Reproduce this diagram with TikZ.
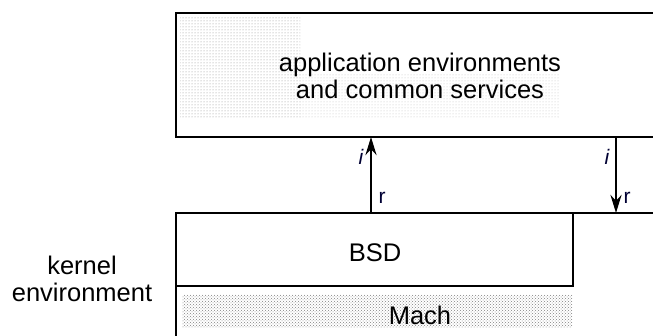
\documentclass[tikz,border=0pt]{standalone}
\usepackage{fontspec}
\setmainfont{Liberation Sans}
\usetikzlibrary{arrows.meta,patterns}
\begin{document}
\begin{tikzpicture}[x=1pt,y=-1pt,
  frame/.style={draw=black,line width=2.6pt,inner sep=0pt,outer sep=0pt},
  lbl/.style={font=\fontsize{25.5}{27}\selectfont,align=center,inner sep=0pt},
  small/.style={font=\fontsize{21}{22}\selectfont,inner sep=0pt,text=black!80!blue},
  link/.style={line width=2.6pt}]
\useasboundingbox (0,0) rectangle (653,336);
\clip (0,0) rectangle (653,336);
% textures
\fill[pattern=dots,pattern color=black!45] (180,18) rectangle (300,118);
\fill[pattern=dots,pattern color=black!25] (300,75) rectangle (560,118);
\fill[pattern=crosshatch dots,pattern color=black!50] (182,295) rectangle (572,328);
% boxes
\node[frame,anchor=north west,minimum width=520pt,minimum height=124pt] (app) at (176,13) {};
\node[frame,anchor=north west,minimum width=520pt,minimum height=200pt] (kern) at (176,213) {};
\node[frame,anchor=north west,minimum width=397pt,minimum height=73pt] (bsd) at (176,213) {};
% texts
\node[lbl] (apptxt) at (420,76) {application environments\\and common services};
\node[lbl] (bsdtxt) at (375,253) {BSD};
\node[lbl] (mach) at (420,315) {Mach};
\node[lbl] (kenv) at (82,279) {kernel\\environment};
% arrows
\coordinate (l) at (371,0);
\coordinate (r) at (616,0);
\draw[link,-{Stealth[length=18pt,width=11pt]}] (bsd.north -| l) -- (app.south -| l);
\draw[link,-{Stealth[length=18pt,width=11pt]}] (app.south -| r) -- (kern.north -| r);
\node[small] (il) at (361,157) {\itshape i};
\node[small] (rl) at (382,198) {r};
\node[small] (ir) at (607,157) {\itshape i};
\node[small] (rr) at (627,198) {r};
\end{tikzpicture}
\end{document}
